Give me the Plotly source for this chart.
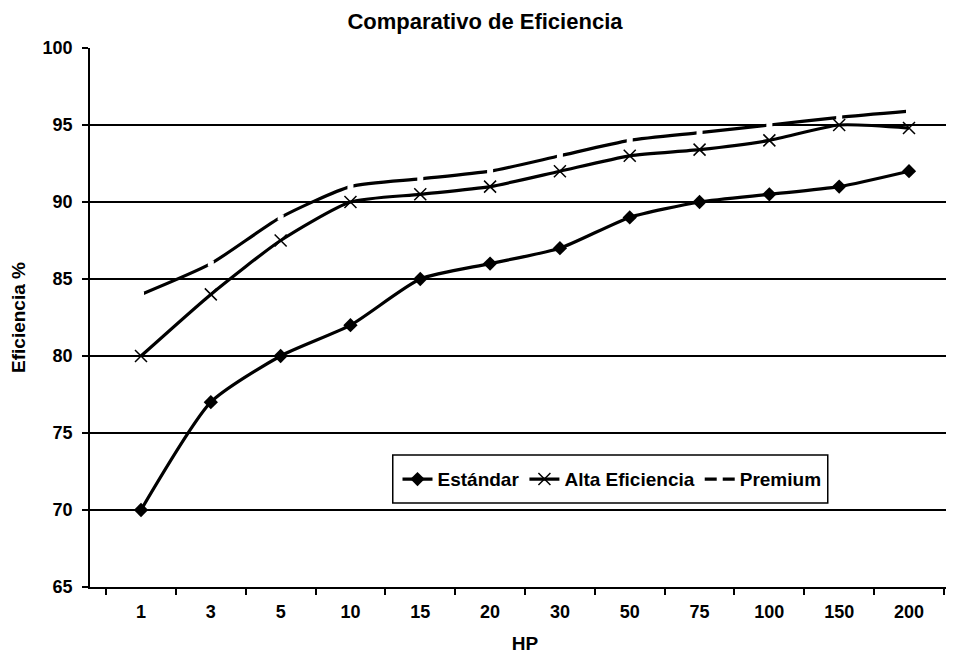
import plotly.graph_objects as go

hp = ["1", "3", "5", "10", "15", "20", "30", "50", "75", "100", "150", "200"]
estandar = [70, 77, 80, 82, 85, 86, 87, 89, 90, 90.5, 91, 92]
alta = [80, 84, 87.5, 90, 90.5, 91, 92, 93, 93.4, 94, 95, 94.8]
premium = [84, 86, 89, 91, 91.5, 92, 93, 94, 94.5, 95, 95.5, 95.9]
y_ticks = [65, 70, 75, 80, 85, 90, 95, 100]

FONT = "Liberation Sans, Arial, sans-serif"

fig = go.Figure()
fig.add_trace(go.Scatter(
    x=hp, y=estandar, name="Estándar", mode="lines+markers",
    line=dict(color="black", width=3.2, shape="spline", smoothing=0.6),
    marker=dict(symbol="diamond", size=11, color="black")))
fig.add_trace(go.Scatter(
    x=hp, y=alta, name="Alta Eficiencia", mode="lines+markers",
    line=dict(color="black", width=3.2, shape="spline", smoothing=0.6),
    marker=dict(symbol="x-thin", size=12, color="black",
                line=dict(color="black", width=1.5))))
fig.add_trace(go.Scatter(
    x=hp, y=premium, name="Premium", mode="lines+markers",
    line=dict(color="black", width=3.2, shape="spline", smoothing=0.6),
    marker=dict(symbol="square", size=6, color="white",
                line=dict(color="white", width=0))))

fig.update_layout(
    width=952, height=646,
    margin=dict(l=82, r=0, t=40, b=67),
    paper_bgcolor="white", plot_bgcolor="white",
    font=dict(family=FONT, color="black", size=18),
    title=dict(text="<b>Comparativo de Eficiencia</b>", x=0.501, xref="container",
               xanchor="center", y=0.979, yref="container", yanchor="middle",
               font=dict(size=22, family=FONT, color="black")),
    showlegend=True,
    legend=dict(orientation="h", x=0.6, y=0.2, xanchor="center", yanchor="middle",
                bgcolor="rgba(0,0,0,0)", borderwidth=0,
                font=dict(size=19, family=FONT, color="black", weight="bold"),
                itemwidth=30, tracegroupgap=0),
    shapes=[dict(type="rect", xref="paper", yref="paper",
                 x0=0.348, x1=0.848, y0=0.156, y1=0.245,
                 fillcolor="white", line=dict(color="black", width=1.5),
                 layer="above")],
)
fig.update_xaxes(
    type="category", categoryorder="array", categoryarray=hp,
    showgrid=False, showline=True, linecolor="black", linewidth=1.5,
    ticks="outside", tickson="boundaries", ticklen=6, tickcolor="black", tickwidth=1.5,
    ticklabelstandoff=8,
    tickfont=dict(size=18, family=FONT, color="black", weight="bold"),
    title=dict(text="<b>HP</b>", font=dict(size=19, family=FONT, color="black"), standoff=15),
    automargin=False, zeroline=False)
fig.update_yaxes(
    range=[65, 100], tickvals=y_ticks,
    showgrid=True, gridcolor="black", gridwidth=1.6,
    showline=True, linecolor="black", linewidth=1.5,
    ticks="outside", ticklen=6, tickcolor="black", tickwidth=1.5,
    ticklabelstandoff=6,
    tickfont=dict(size=18, family=FONT, color="black", weight="bold"),
    title=dict(text="<b>Eficiencia %</b>", font=dict(size=19, family=FONT, color="black"), standoff=12),
    automargin=False, zeroline=False)

fig.write_html("out.html")
